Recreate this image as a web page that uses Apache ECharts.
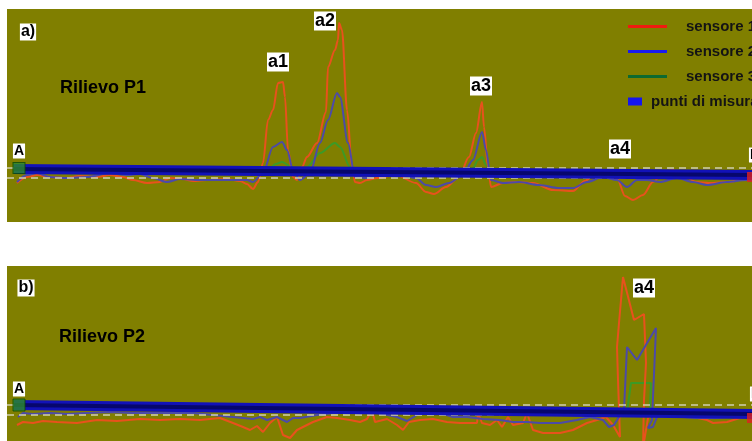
<!DOCTYPE html>
<html><head><meta charset="utf-8">
<script src="https://cdn.jsdelivr.net/npm/echarts@6/dist/echarts.min.js"></script>
<style>html,body{margin:0;padding:0;background:#fff}#c{width:752px;height:441px}</style>
</head><body><div id="c"></div>
<script>
// Panel a) Rilievo P1 : [position, level] (level axis inverted)
const s1a = [[17,183],[27,177],[37,175],[50,177],[67,178],[80,176],[97,177],[110,175],[123,177],[133,180],[147,183],[160,182],[170,178],[183,179],[193,181],[207,180],[227,179],[240,181],[247,184],[253,189],[258,182],[263,163],[268,120],[273,110],[278,83],[283,82],[285,97],[288,150],[293,177],[297,180],[302,167],[307,157],[317,143],[326,112],[328,67],[335,50],[338,40],[339,23],[342,30],[347,110],[352,167],[355,182],[360,183],[367,180],[377,178],[396,175],[416,183],[426,192],[434,194],[446,187],[459,177],[469,157],[476,133],[482,102],[484,127],[488,167],[491,187],[503,183],[516,182],[533,183],[553,190],[573,191],[585,181],[597,171],[607,170],[617,178],[625,196],[633,200],[643,195],[653,182],[664,172],[673,170],[683,175],[696,182],[709,183],[729,182],[746,178],[752,178]];
const s2a = [[17,182],[27,175],[37,173],[50,177],[67,178],[87,177],[110,173],[127,175],[140,174],[153,178],[167,182],[180,179],[200,180],[227,180],[247,180],[253,182],[263,173],[273,147],[282,142],[287,150],[293,170],[300,180],[310,173],[320,143],[328,120],[337,93],[340,97],[348,143],[355,177],[367,178],[376,176],[396,173],[416,178],[426,185],[436,187],[449,183],[463,175],[473,160],[482,132],[486,150],[491,180],[503,183],[519,182],[539,185],[559,188],[573,188],[587,182],[603,177],[617,180],[627,187],[637,180],[647,180],[660,182],[677,178],[693,182],[707,185],[727,182],[746,180],[752,180]];
const s3a = [[17,171],[60,172],[140,170],[200,172],[255,174],[268,170],[276,164],[282,162],[290,166],[298,172],[307,167],[320,153],[335,143],[340,147],[350,167],[358,174],[420,174],[465,172],[473,168],[478,160],[482,157],[486,165],[491,174],[550,176],[650,176],[752,176]];
const puntiA = [[14,169],[752,175]];
const dashA = [168,178];

// Panel b) Rilievo P2
const s1b = [[17,425],[23,422],[33,423],[43,421],[57,422],[77,423],[97,420],[117,421],[140,419],[160,420],[180,419],[200,420],[220,418],[233,423],[243,427],[250,430],[257,426],[263,432],[270,423],[277,417],[283,435],[290,438],[297,430],[305,426],[313,422],[327,417],[337,418],[350,420],[360,422],[367,419],[372,410],[375,422],[387,419],[397,425],[403,430],[409,422],[420,420],[433,419],[447,422],[460,423],[477,423],[478,413],[482,423],[490,425],[497,420],[502,427],[508,417],[513,425],[523,423],[527,413],[533,430],[543,433],[560,433],[573,430],[587,423],[597,420],[606,417],[613,425],[620,437],[618,380],[617,347],[619,323],[623,277],[634,320],[644,314],[646,363],[644,400],[643,448],[648,418],[655,413],[667,412],[680,417],[693,417],[707,420],[713,423],[727,422],[740,418],[752,417]];
const s2b = [[18,417],[23,413],[33,414],[50,413],[67,414],[87,413],[110,412],[133,413],[153,413],[173,413],[193,413],[213,415],[233,417],[253,419],[260,417],[267,420],[277,417],[287,422],[293,418],[300,418],[317,415],[333,413],[350,413],[370,412],[383,414],[397,417],[407,421],[417,415],[427,413],[440,413],[453,417],[467,417],[483,419],[500,420],[513,422],[527,422],[540,423],[560,423],[577,420],[590,417],[603,420],[609,427],[614,425],[619,417],[624,410],[627,347],[637,360],[656,328],[652,420],[648,428],[653,427],[659,412],[669,410],[683,417],[696,418],[716,418],[729,417],[743,413],[752,412]];
const s3b = [[17,408],[100,408],[200,409],[300,410],[400,410],[500,411],[600,412],[627,412],[628,410],[631,383],[651,383],[650,407],[655,412],[700,411],[752,414]];
const puntiB = [[14,405],[752,414]];
const dashB = [405,415];

// annotations: [position, level, text]
const notesA = [[28,32,'a)'],[103,88,'Rilievo P1'],[19,151,'A'],[278,62,'a1'],[325,21,'a2'],[481,86,'a3'],[620,149,'a4'],[755,155,'B']];
const notesB = [[26,288,'b)'],[102,337,'Rilievo P2'],[19,389,'A'],[644,288,'a4'],[756,394,'B']];
const startEnd = [[19,168,'A'],[751,177,'B'],[19,405,'A'],[751,418,'B']];

const FONT = 'Liberation Sans, Arial, sans-serif';
const C1 = '#e8521c', C2 = '#4c4aa8', C3 = '#3c9a26', BAND = '#1212b8';

function lineSeries(name, data, color, idx, smooth) {
  return {name, type:'line', data, xAxisIndex:idx, yAxisIndex:idx, symbol:'none', smooth, smoothMonotone: smooth ? 'x' : undefined,
    lineStyle:{color, width:2}, itemStyle:{color}, z:3, clip:true, silent:true, animation:false};
}
function dashSeries(vals, idx) {
  return {type:'line', data:[], xAxisIndex:idx, yAxisIndex:idx, z:2, animation:false,
    markLine:{silent:true, symbol:'none', label:{show:false},
      lineStyle:{color:'#cfcfb0', type:[7,5], width:1.5},
      data: vals.map(v => ({yAxis:v}))}};
}
function bandSeries(data, idx) {
  return [
    {name:'punti di misura', type:'line', data, xAxisIndex:idx, yAxisIndex:idx, symbol:'none',
      lineStyle:{color:BAND, width:10}, itemStyle:{color:BAND}, z:5, animation:false, silent:true},
    {type:'line', data, xAxisIndex:idx, yAxisIndex:idx, symbol:'none',
      lineStyle:{color:'#05055a', width:4, opacity:0.8}, z:6, animation:false, silent:true}
  ];
}
function notes(arr, idx) {
  return {type:'scatter', xAxisIndex:idx, yAxisIndex:idx, clip:false, symbolSize:1, z:10, silent:true, animation:false,
    itemStyle:{color:'#ffffff', opacity:1},
    data: arr.map(n => {
      const t = n[2];
      const big = t.startsWith('Rilievo');
      const small = (t === 'A' || t === 'B');
      return {value:[n[0], n[1]], name:t, label:{show:true, position:'inside', formatter:'{b}',
        fontFamily:FONT, fontWeight:'bold', color:'#000', opacity:1,
        fontSize: big ? 18 : (small ? 14 : (t.endsWith(')') ? 16 : 18)),
        backgroundColor: big ? 'transparent' : '#ffffff', padding: big ? 0 : [1,1,0,1]}};
    })};
}

const chart = echarts.init(document.getElementById('c'), null, {renderer:'canvas'});
chart.setOption({
  backgroundColor:'#ffffff',
  animation:false,
  grid:[
    {left:7, top:9, width:745, height:213, show:true, backgroundColor:'#807f00', borderWidth:0},
    {left:7, top:266, width:745, height:175, show:true, backgroundColor:'#807f00', borderWidth:0}
  ],
  xAxis:[
    {type:'value', gridIndex:0, min:7, max:752, show:false},
    {type:'value', gridIndex:1, min:7, max:752, show:false}
  ],
  yAxis:[
    {type:'value', gridIndex:0, min:9, max:222, inverse:true, show:false},
    {type:'value', gridIndex:1, min:266, max:441, inverse:true, show:false}
  ],
  legend:[
    {orient:'vertical', left:623, top:14, itemWidth:39, itemHeight:3, itemGap:10, icon:'rect', selectedMode:false,
      textStyle:{fontFamily:FONT, fontWeight:'bold', fontSize:15, color:'#141414', padding:[0,0,0,14]},
      data:[{name:'sensore 1', itemStyle:{color:'#f01a10'}},
            {name:'sensore 2', itemStyle:{color:'#1a1af0'}},
            {name:'sensore 3', itemStyle:{color:'#0c6a30'}}]},
    {orient:'vertical', left:623, top:89, itemWidth:14, itemHeight:8, icon:'rect', selectedMode:false,
      textStyle:{fontFamily:FONT, fontWeight:'bold', fontSize:15, color:'#141414', padding:[0,0,0,4]},
      data:[{name:'punti di misura', itemStyle:{color:'#1515ee'}}]}
  ],
  series:[
    dashSeries(dashA, 0),
    lineSeries('sensore 3', s3a, C3, 0, 0.3),
    lineSeries('sensore 1', s1a, C1, 0, 0.3),
    lineSeries('sensore 2', s2a, C2, 0, 0.3),
    ...bandSeries(puntiA, 0),
    dashSeries(dashB, 1),
    lineSeries('sensore 3', s3b, C3, 1, false),
    lineSeries('sensore 1', s1b, C1, 1, false),
    lineSeries('sensore 2', s2b, C2, 1, false),
    ...bandSeries(puntiB, 1),
    {type:'scatter', xAxisIndex:0, yAxisIndex:0, clip:false, symbol:'rect', z:7, silent:true, animation:false,
      data:[{value:startEnd[0].slice(0,2), symbolSize:[12,11], itemStyle:{color:'#2c8c2c', borderColor:'#0a4a0a', borderWidth:1}},
            {value:startEnd[1].slice(0,2), symbolSize:[8,10], itemStyle:{color:'#e02020'}}]},
    {type:'scatter', xAxisIndex:1, yAxisIndex:1, clip:false, symbol:'rect', z:7, silent:true, animation:false,
      data:[{value:startEnd[2].slice(0,2), symbolSize:[12,12], itemStyle:{color:'#2c8c2c', borderColor:'#0a4a0a', borderWidth:1}},
            {value:startEnd[3].slice(0,2), symbolSize:[8,10], itemStyle:{color:'#e02020'}}]},
    notes(notesA, 0),
    notes(notesB, 1)
  ]
});
</script></body></html>
